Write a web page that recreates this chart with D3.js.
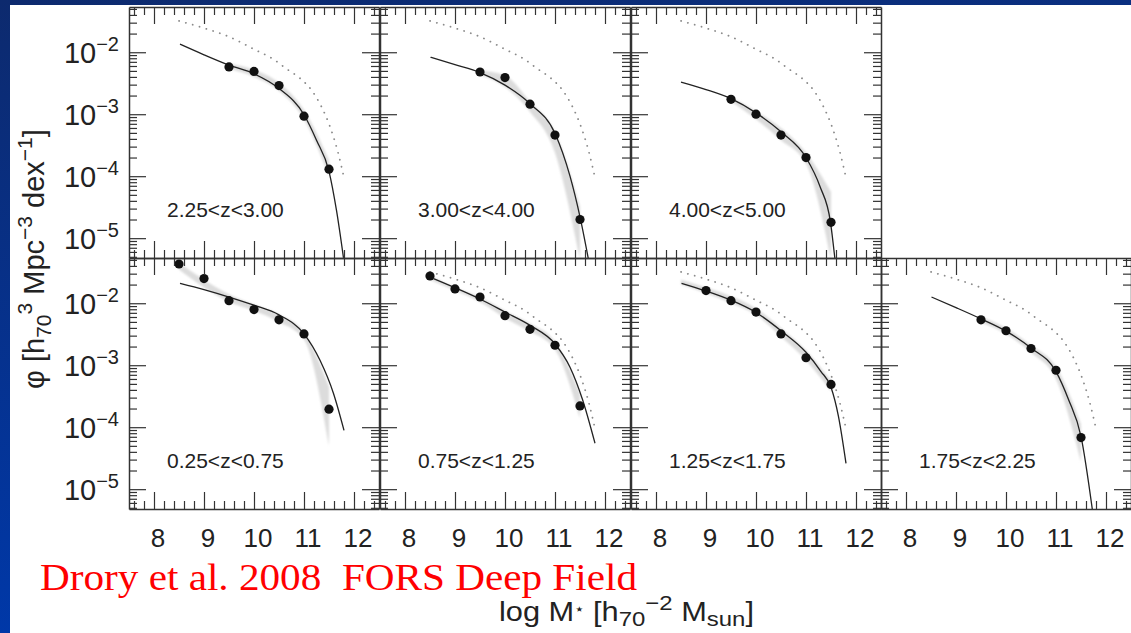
<!DOCTYPE html>
<html>
<head>
<meta charset="utf-8">
<script src="https://cdn.jsdelivr.net/npm/d3@7"></script>
<style>
  html, body { margin: 0; padding: 0; background: #fff; }
  svg { display: block; }
  text { font-family: "Liberation Sans", Arial, Helvetica, sans-serif; fill: #222; }
</style>
</head>
<body>
<script>
// Stellar mass functions in redshift bins (mass = log M*, phi in h70^3 Mpc^-3 dex^-1)

const zLabels = ['2.25<z<3.00', '3.00<z<4.00', '4.00<z<5.00',
                 '0.25<z<0.75', '0.75<z<1.25', '1.25<z<1.75', '1.75<z<2.25'];

const xTickLabels = [8, 9, 10, 11, 12];
const yTickExponents = [-2, -3, -4, -5];

// filled circles: [mass, phi]
const points225 = [[9.5, 5.8e-3], [10.0, 4.9e-3], [10.5, 2.9e-3], [11.0, 9.3e-4], [11.5, 1.3e-4]];
const points300 = [[9.5, 4.8e-3], [10.0, 3.9e-3], [10.5, 1.45e-3], [11.0, 4.6e-4], [11.5, 2.0e-5]];
const points400 = [[9.5, 1.74e-3], [10.0, 1.0e-3], [10.5, 4.6e-4], [11.0, 2.0e-4], [11.5, 1.8e-5]];
const points025 = [[8.5, 4.3e-2], [9.0, 2.5e-2], [9.5, 1.1e-2], [10.0, 7.9e-3], [10.5, 5.4e-3], [11.0, 3.2e-3], [11.5, 1.95e-4]];
const points075 = [[8.5, 2.75e-2], [9.0, 1.7e-2], [9.5, 1.26e-2], [10.0, 6.3e-3], [10.5, 3.8e-3], [11.0, 2.1e-3], [11.5, 2.2e-4]];
const points125 = [[9.0, 1.6e-2], [9.5, 1.1e-2], [10.0, 7.2e-3], [10.5, 3.2e-3], [11.0, 1.32e-3], [11.5, 4.9e-4]];
const points175 = [[9.5, 5.4e-3], [10.0, 3.6e-3], [10.5, 1.86e-3], [11.0, 8.3e-4], [11.5, 6.8e-5]];

// solid fit curves: [mass, phi]
const fit225 = [[8.52, 1.35e-2], [9.0, 9.1e-3], [9.5, 6.2e-3], [10.0, 4.5e-3], [10.5, 2.6e-3], [11.0, 9.8e-4],
                [11.25, 3.8e-4], [11.5, 1.2e-4], [11.65, 2.8e-5], [11.79, 4.8e-6]];
const fit300 = [[8.51, 8.3e-3], [9.0, 6.3e-3], [9.5, 4.7e-3], [10.0, 2.95e-3], [10.5, 1.48e-3], [11.0, 4.9e-4],
                [11.3, 1.0e-4], [11.5, 2.2e-5], [11.67, 4.5e-6]];
const fit400 = [[8.5, 3.3e-3], [9.0, 2.5e-3], [9.5, 1.78e-3], [10.0, 1.05e-3], [10.5, 5.2e-4], [11.0, 2.0e-4],
                [11.28, 6.8e-5], [11.49, 1.8e-5], [11.58, 4.5e-6]];
const fit025 = [[8.52, 2.1e-2], [9.0, 1.66e-2], [9.5, 1.26e-2], [10.0, 9.3e-3], [10.5, 6.5e-3], [11.0, 3.2e-3],
                [11.32, 1.2e-3], [11.59, 3.5e-4], [11.8, 8.9e-5]];
const fit075 = [[8.57, 2.5e-2], [9.0, 1.78e-2], [9.5, 1.17e-2], [10.0, 7.2e-3], [10.5, 4.4e-3], [11.0, 2.2e-3],
                [11.3, 9.3e-4], [11.55, 2.8e-4], [11.8, 5.5e-5]];
const fit125 = [[8.51, 2.1e-2], [9.0, 1.58e-2], [9.5, 1.12e-2], [10.0, 7.1e-3], [10.5, 3.6e-3], [11.0, 1.62e-3],
                [11.3, 7.9e-4], [11.5, 4.4e-4], [11.65, 1.48e-4], [11.8, 2.6e-5]];
const fit175 = [[8.51, 1.26e-2], [9.0, 8.5e-3], [9.5, 5.6e-3], [10.0, 3.55e-3], [10.5, 1.9e-3], [11.0, 7.9e-4],
                [11.25, 2.8e-4], [11.5, 7.1e-5], [11.73, 4.5e-6]];

// local reference curve (dotted), same in every panel but the lowest bin
const localFit = [[8.5, 3.2e-2], [9.0, 2.45e-2], [9.5, 1.78e-2], [10.0, 1.12e-2], [10.4, 7.6e-3], [10.65, 5.4e-3],
                  [10.92, 3.8e-3], [11.15, 2.45e-3], [11.35, 1.32e-3], [11.52, 6.3e-4], [11.67, 2.6e-4], [11.8, 9.5e-5]];

// grey uncertainty bands: [mass, lower phi, upper phi]
const band225 = [[9.5, 5.4e-3, 6.6e-3], [10.0, 4.0e-3, 5.2e-3], [10.5, 2.4e-3, 3.2e-3], [11.0, 8.3e-4, 1.17e-3], [11.5, 1.0e-4, 1.8e-4]];
const band300 = [[9.5, 4.3e-3, 5.1e-3], [10.0, 2.75e-3, 4.2e-3], [10.5, 1.1e-3, 1.6e-3], [11.0, 2.4e-4, 5.2e-4], [11.5, 4.5e-6, 3.2e-5]];
const band400 = [[9.5, 1.6e-3, 1.9e-3], [10.0, 8.3e-4, 1.12e-3], [10.5, 3.8e-4, 6.0e-4], [11.0, 1.6e-4, 2.4e-4], [11.5, 4.5e-6, 5.6e-5]];
const band025 = [[8.5, 3.5e-2, 4.5e-2], [9.0, 1.8e-2, 2.4e-2], [9.5, 1.05e-2, 1.4e-2], [10.0, 7.6e-3, 9.5e-3],
                 [10.5, 5.0e-3, 6.6e-3], [11.0, 2.6e-3, 3.4e-3], [11.5, 5.0e-5, 4.5e-4]];
const band075 = [[8.5, 2.4e-2, 2.8e-2], [9.0, 1.6e-2, 1.8e-2], [9.5, 1.05e-2, 1.26e-2], [10.0, 5.8e-3, 7.6e-3],
                 [10.5, 3.5e-3, 4.7e-3], [11.0, 1.8e-3, 2.4e-3], [11.5, 1.4e-4, 3.5e-4]];
const band125 = [[8.5, 2.0e-2, 2.4e-2], [9.0, 1.45e-2, 1.8e-2], [9.5, 1.0e-2, 1.3e-2], [10.0, 6.5e-3, 8.3e-3],
                 [10.5, 2.9e-3, 4.0e-3], [11.0, 1.2e-3, 1.74e-3], [11.5, 3.8e-4, 5.6e-4]];
const band175 = [[9.5, 4.9e-3, 6.0e-3], [10.0, 3.2e-3, 4.0e-3], [10.5, 1.6e-3, 2.1e-3], [11.0, 6.0e-4, 9.5e-4], [11.5, 2.8e-5, 1.12e-4]];

// Layout

const width = 1131;
const height = 633;
const panelWidth = 250;
const panelHeight = 251;
const colX = [129, 380, 631, 881];
const rowY = [7, 258];
const majorTick = 17;
const minorTick = 8;

const panels = [
    {label: zLabels[0], row: 0, col: 0, points: points225, fit: fit225, band: band225, local: true},
    {label: zLabels[1], row: 0, col: 1, points: points300, fit: fit300, band: band300, local: true},
    {label: zLabels[2], row: 0, col: 2, points: points400, fit: fit400, band: band400, local: true},
    {label: zLabels[3], row: 1, col: 0, points: points025, fit: fit025, band: band025, local: false},
    {label: zLabels[4], row: 1, col: 1, points: points075, fit: fit075, band: band075, local: true},
    {label: zLabels[5], row: 1, col: 2, points: points125, fit: fit125, band: band125, local: true},
    {label: zLabels[6], row: 1, col: 3, points: points175, fit: fit175, band: band175, local: true}
];

const xScale = d3.scaleLinear().domain([7.5, 12.5]).range([0, panelWidth]);
const yScale = d3.scaleLog().domain([Math.pow(10, -5.32), Math.pow(10, -1.27)]).range([panelHeight, 0]);

const xMinor = d3.range(76, 125, 2).map(v => v / 10).filter(v => !Number.isInteger(v));
const yMajor = yTickExponents.map(e => Math.pow(10, e));
const yMinor = [];
[-6, -5, -4, -3, -2, -1].forEach(e => {
    for (let k = 2; k <= 9; k++) {
        const v = k * Math.pow(10, e);
        if (v > yScale.domain()[0] && v < yScale.domain()[1]) yMinor.push(v);
    }
});

const fitLine = d3.line()
    .x(d => xScale(d[0]))
    .y(d => yScale(d[1]))
    .curve(d3.curveMonotoneX);

const bandArea = d3.area()
    .x(d => xScale(d[0]))
    .y0(d => yScale(d[1]))
    .y1(d => yScale(d[2]))
    .curve(d3.curveMonotoneX);

const svg = d3.select('body').append('svg')
    .attr('width', width)
    .attr('height', height);

// slide background
const defs = svg.append('defs');
const sideGrad = defs.append('linearGradient').attr('id', 'side').attr('x1', 0).attr('y1', 0).attr('x2', 0).attr('y2', 1);
sideGrad.append('stop').attr('offset', '0%').attr('stop-color', '#0d2a6e');
sideGrad.append('stop').attr('offset', '100%').attr('stop-color', '#0038a8');
const topGrad = defs.append('linearGradient').attr('id', 'topbar').attr('x1', 0).attr('y1', 0).attr('x2', 1).attr('y2', 0);
topGrad.append('stop').attr('offset', '0%').attr('stop-color', '#0d2a6e');
topGrad.append('stop').attr('offset', '100%').attr('stop-color', '#0a2f80');
defs.append('clipPath').attr('id', 'panel-clip')
    .append('rect').attr('width', panelWidth).attr('height', panelHeight);
defs.append('filter').attr('id', 'soft')
    .append('feGaussianBlur').attr('stdDeviation', 0.8);

svg.append('rect').attr('width', width).attr('height', height).attr('fill', '#fff');
svg.append('rect').attr('width', width).attr('height', 5).attr('fill', 'url(#topbar)');
svg.append('rect').attr('width', 10).attr('height', height).attr('fill', 'url(#side)');

function drawPanel(p) {
    const g = svg.append('g')
        .attr('transform', `translate(${colX[p.col]},${rowY[p.row]})`);

    const plot = g.append('g').attr('clip-path', 'url(#panel-clip)');

    plot.append('path')
        .datum(p.band)
        .attr('d', bandArea)
        .attr('fill', '#dcdcdc')
        .attr('filter', 'url(#soft)');

    if (p.local) {
        plot.append('path')
            .datum(localFit)
            .attr('d', fitLine)
            .attr('fill', 'none')
            .attr('stroke', '#8a8a8a')
            .attr('stroke-width', 1.8)
            .attr('stroke-linecap', 'round')
            .attr('stroke-dasharray', '0.1,7');
    }

    plot.append('path')
        .datum(p.fit)
        .attr('d', fitLine)
        .attr('fill', 'none')
        .attr('stroke', '#222')
        .attr('stroke-width', 1.3);

    g.selectAll('.pt')
        .data(p.points)
        .enter().append('circle')
        .attr('class', 'pt')
        .attr('cx', d => xScale(d[0]))
        .attr('cy', d => yScale(d[1]))
        .attr('r', 4.6)
        .attr('fill', '#111');

    drawFrame(g);

    g.append('text')
        .attr('x', 38)
        .attr('y', 210)
        .style('font-size', '21px')
        .text(p.label);

    if (p.col === 0) drawYLabels(g);
    if (p.row === 1) drawXLabels(g);
}

function drawFrame(g) {
    const sides = [
        [d3.axisTop(xScale), 0, 0, xTickLabels, xMinor],
        [d3.axisBottom(xScale), 0, panelHeight, xTickLabels, xMinor],
        [d3.axisLeft(yScale), 0, 0, yMajor, yMinor],
        [d3.axisRight(yScale), panelWidth, 0, yMajor, yMinor]
    ];
    sides.forEach(([axis, tx, ty, major, minor]) => {
        g.append('g')
            .attr('transform', `translate(${tx},${ty})`)
            .call(axis.tickValues(minor).tickSize(-minorTick).tickSizeOuter(0).tickFormat(''))
            .call(a => a.select('.domain').remove());
        g.append('g')
            .attr('transform', `translate(${tx},${ty})`)
            .call(axis.tickValues(major).tickSize(-majorTick).tickSizeOuter(0).tickFormat(''));
    });
    g.selectAll('.domain').attr('stroke', '#333').attr('stroke-width', 1.5);
    g.selectAll('.tick line').attr('stroke', '#333').attr('stroke-width', 1.2);
}

function drawYLabels(g) {
    yTickExponents.forEach(e => {
        const t = g.append('text')
            .attr('x', -10)
            .attr('y', yScale(Math.pow(10, e)) + 11)
            .attr('text-anchor', 'end');
        t.append('tspan').style('font-size', '29px').text('10');
        t.append('tspan').style('font-size', '20px').attr('dy', -12).text('\u2212' + Math.abs(e));
    });
}

function drawXLabels(g) {
    xTickLabels.forEach(v => {
        g.append('text')
            .attr('x', xScale(v) + 4)
            .attr('y', panelHeight + 38)
            .attr('text-anchor', 'middle')
            .style('font-size', '26px')
            .text(v);
    });
}

panels.forEach(drawPanel);

// axis titles
const yTitle = svg.append('text')
    .attr('transform', 'translate(44,259) rotate(-90)')
    .attr('text-anchor', 'middle')
    .style('font-size', '29px');
yTitle.append('tspan').text('\u03c6 [h');
yTitle.append('tspan').style('font-size', '21px').attr('dy', 7).text('70');
yTitle.append('tspan').style('font-size', '21px').attr('dy', -19).text('3');
yTitle.append('tspan').attr('dy', 12).text(' Mpc');
yTitle.append('tspan').style('font-size', '21px').attr('dy', -12).text('\u22123');
yTitle.append('tspan').attr('dy', 12).text(' dex');
yTitle.append('tspan').style('font-size', '21px').attr('dy', -12).text('\u22121');
yTitle.append('tspan').attr('dy', 12).text(']');

const xTitle = svg.append('text')
    .attr('x', 499)
    .attr('y', 621)
    .attr('textLength', 255)
    .attr('lengthAdjust', 'spacingAndGlyphs')
    .style('font-size', '27px');
xTitle.append('tspan').text('log M');
xTitle.append('tspan').style('font-size', '15px').attr('dy', -7).text('\u22c6');
xTitle.append('tspan').attr('dy', 7).text(' [h');
xTitle.append('tspan').style('font-size', '21px').attr('dy', 5).text('70');
xTitle.append('tspan').style('font-size', '21px').attr('dy', -16).text('\u22122');
xTitle.append('tspan').attr('dy', 11).text(' M');
xTitle.append('tspan').style('font-size', '21px').attr('dy', 5).text('sun');
xTitle.append('tspan').attr('dy', -5).text(']');

svg.append('text')
    .attr('x', 40)
    .attr('y', 590)
    .attr('textLength', 597)
    .attr('lengthAdjust', 'spacingAndGlyphs')
    .style('white-space', 'pre')
    .style('font-family', '"Liberation Serif", "Times New Roman", serif')
    .style('font-size', '38px')
    .style('fill', '#ff0000')
    .text('Drory et al. 2008  FORS Deep Field');
</script>
</body>
</html>
